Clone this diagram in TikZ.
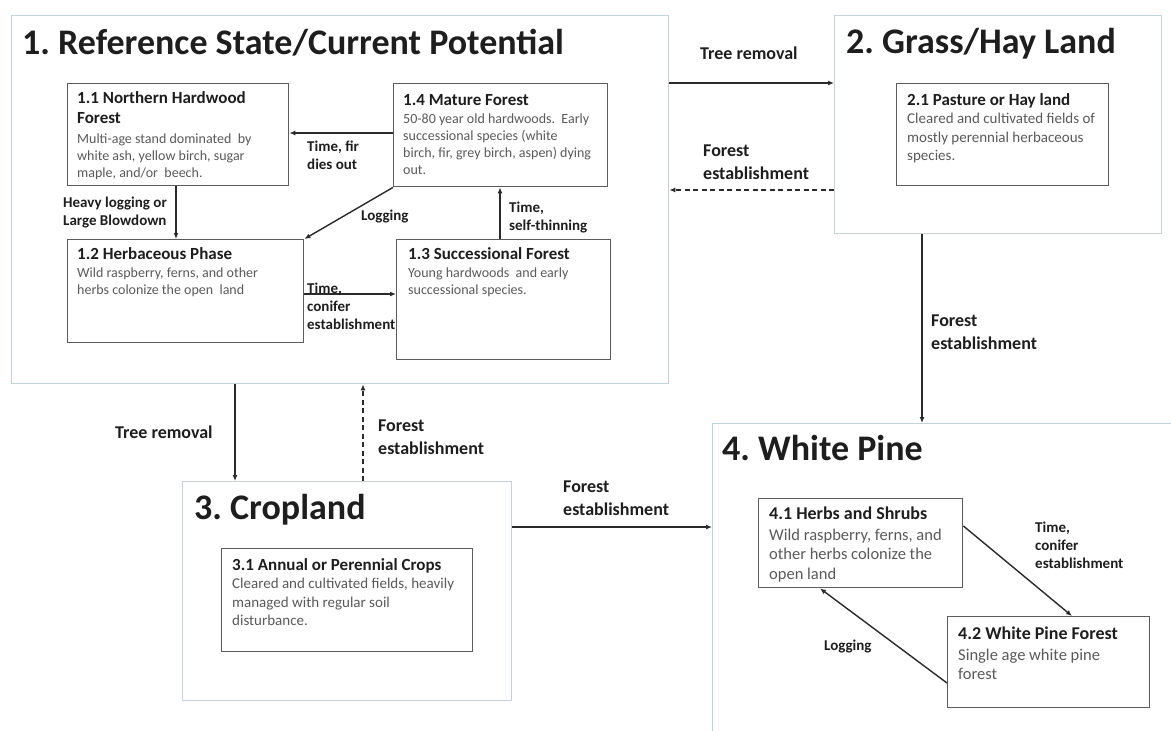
\documentclass[tikz,border=0pt]{standalone}
\usepackage{fontspec}
\setmainfont{Carlito}
\usepackage{xcolor}
\usepackage{tikz}
\usetikzlibrary{arrows.meta}
\frenchspacing
\definecolor{statecol}{HTML}{C4D2D9}
\definecolor{phasecol}{HTML}{5C5C5C}
\definecolor{bodycol}{HTML}{5A5A5A}
\definecolor{headcol}{HTML}{1E1E1E}
\definecolor{linecol}{HTML}{2A2A2A}
\newcommand{\hd}[1]{{\color{headcol}\fontsize{17}{20}\selectfont\bfseries #1}}
\tikzset{
  statebox/.style={draw=statecol, line width=1.4pt, anchor=north west, inner sep=0pt},
  phasebox/.style={draw=phasecol, line width=1.4pt, anchor=north west, inner sep=0pt},
  phasetext/.style={anchor=north west, inner sep=0pt, align=left, text=bodycol, font=\fontsize{14}{17}\selectfont},
  ttl/.style={anchor=base west, inner sep=0pt, text=headcol, font=\fontsize{36}{40}\selectfont\bfseries},
  lab/.style={anchor=north west, inner sep=0pt, align=left, text=headcol, font=\fontsize{15}{18}\selectfont\bfseries},
  labbig/.style={lab, font=\fontsize{18}{23}\selectfont\bfseries},
  trans/.style={draw=linecol, line width=1.4pt, -{Latex[length=6pt,width=5pt]}},
  transdash/.style={trans, dash pattern=on 5pt off 3.5pt},
}

\begin{document}
\begin{tikzpicture}[x=1pt,y=-1pt]
  \clip (0,0) rectangle (1171,731);
  \fill[white] (0,0) rectangle (1171,731);
  % states
  \node[statebox, minimum width=657pt, minimum height=368pt] (s1) at (11,15) {};
  \node[statebox, minimum width=327pt, minimum height=218pt] (s2) at (834,15) {};
  \node[statebox, minimum width=329pt, minimum height=219pt] (s3) at (182,481) {};
  \node[statebox, minimum width=480pt, minimum height=330pt] (s4) at (712,423) {};
  \node[ttl] (t1) at (22,54) {1. Reference State/Current Potential};
  \node[ttl] (t2) at (846,53) {2. Grass/Hay Land};
  \node[ttl] (t3) at (194,519) {3. Cropland};
  \node[ttl] (t4) at (722,460) {4. White Pine};
  % phases
  \node[phasebox, minimum width=221pt, minimum height=102pt] (p11) at (67,83) {};
  \node[phasebox, minimum width=214pt, minimum height=103pt] (p14) at (393,83) {};
  \node[phasebox, minimum width=236pt, minimum height=103pt] (p12) at (67,239) {};
  \node[phasebox, minimum width=214pt, minimum height=120pt] (p13) at (396,239) {};
  \node[phasebox, minimum width=212pt, minimum height=102pt] (p21) at (896,83) {};
  \node[phasebox, minimum width=251pt, minimum height=103pt] (p31) at (221,548) {};
  \node[phasebox, minimum width=204pt, minimum height=89pt] (p41) at (758,498) {};
  \node[phasebox, minimum width=202pt, minimum height=91pt] (p42) at (947,616) {};
  \node[phasetext] (x11) at (77,91) {\hd{1.1 Northern Hardwood}\\[3pt]\hd{Forest}\\[3pt]
    Multi-age stand dominated\ \ by\\white ash, yellow birch, sugar\\maple, and/or\ \ beech.};
  \node[phasetext] (x14) at (403,94) {\hd{1.4 Mature Forest}\\[1pt]
    50-80 year old hardwoods.\ \ Early\\successional species (white\\birch, fir, grey birch, aspen) dying\\out.};
  \node[phasetext] (x12) at (77,247) {\hd{1.2 Herbaceous Phase}\\[1pt]
    Wild raspberry, ferns, and other\\herbs colonize the open\ \ land};
  \node[phasetext] (x13) at (408,247) {\hd{1.3 Successional Forest}\\[1pt]
    Young hardwoods\ \ and early\\successional species.};
  \node[phasetext, font=\fontsize{15}{18.5}\selectfont] (x21) at (907,93) {\hd{2.1 Pasture or Hay land}\\
    Cleared and cultivated fields of\\mostly perennial herbaceous\\species.};
  \node[phasetext, font=\fontsize{15}{18.5}\selectfont] (x31) at (232,558) {\hd{3.1 Annual or Perennial Crops}\\
    Cleared and cultivated fields, heavily\\managed with regular soil\\disturbance.};
  \node[phasetext, font=\fontsize{16.5}{19.5}\selectfont] (x41) at (769,507) {\hd{\fontsize{18}{21}\selectfont 4.1 Herbs and Shrubs}\\[1pt]
    Wild raspberry, ferns, and\\other herbs colonize the\\open land};
  \node[phasetext, font=\fontsize{16.5}{19.5}\selectfont] (x42) at (958,627) {\hd{\fontsize{18}{21}\selectfont 4.2 White Pine Forest}\\[1pt]
    Single age white pine\\forest};
  % transitions
  \draw[trans] (s1.east |- 0,83) -- (s2.west |- 0,83);
  \draw[transdash] (s2.west |- 0,190) -- (s1.east |- 0,190);
  \draw[trans] (s2.south -| 922,0) -- (s4.north -| 922,0);
  \draw[trans] (s1.south -| 235,0) -- (s3.north -| 235,0);
  \draw[transdash] (s3.north -| 363,0) -- (s1.south -| 363,0);
  \draw[trans] (s3.east |- 0,527) -- (s4.west |- 0,527);
  \draw[trans] (p14.west |- 0,133) -- (p11.east |- 0,133);
  \draw[trans] (p11.south -| 176,0) -- (p12.north -| 176,0);
  \draw[trans] (p14.south west) -- (p12.north east);
  \draw[trans] (p12.east |- 0,294) -- (p13.west |- 0,294);
  \draw[trans] (p13.north -| 500,0) -- (p14.south -| 500,0);
  \draw[trans] (p41.east |- 0,526) -- (p42.north -| 1072,0);
  \draw[trans] (p42.west |- 0,683) -- (p41.south -| 820,0);
  % labels
  \node[labbig] (l1) at (700,47) {Tree removal};
  \node[labbig] (l2) at (703,145) {Forest\\establishment};
  \node[labbig] (l3) at (931,315) {Forest\\establishment};
  \node[labbig] (l4) at (115,426) {Tree removal};
  \node[labbig] (l5) at (378,420) {Forest\\establishment};
  \node[labbig] (l6) at (563,481) {Forest\\establishment};
  \node[lab] (l7) at (307,141) {Time, fir\\dies out};
  \node[lab] (l8) at (63,197) {Heavy logging or\\Large Blowdown};
  \node[lab] (l9) at (361,210) {Logging};
  \node[lab] (l10) at (307,283) {Time,\\conifer\\establishment};
  \node[lab] (l11) at (509,202) {Time,\\self-thinning};
  \node[lab] (l12) at (1035,522) {Time,\\conifer\\establishment};
  \node[lab] (l13) at (824,640) {Logging};
\end{tikzpicture}
\end{document}
